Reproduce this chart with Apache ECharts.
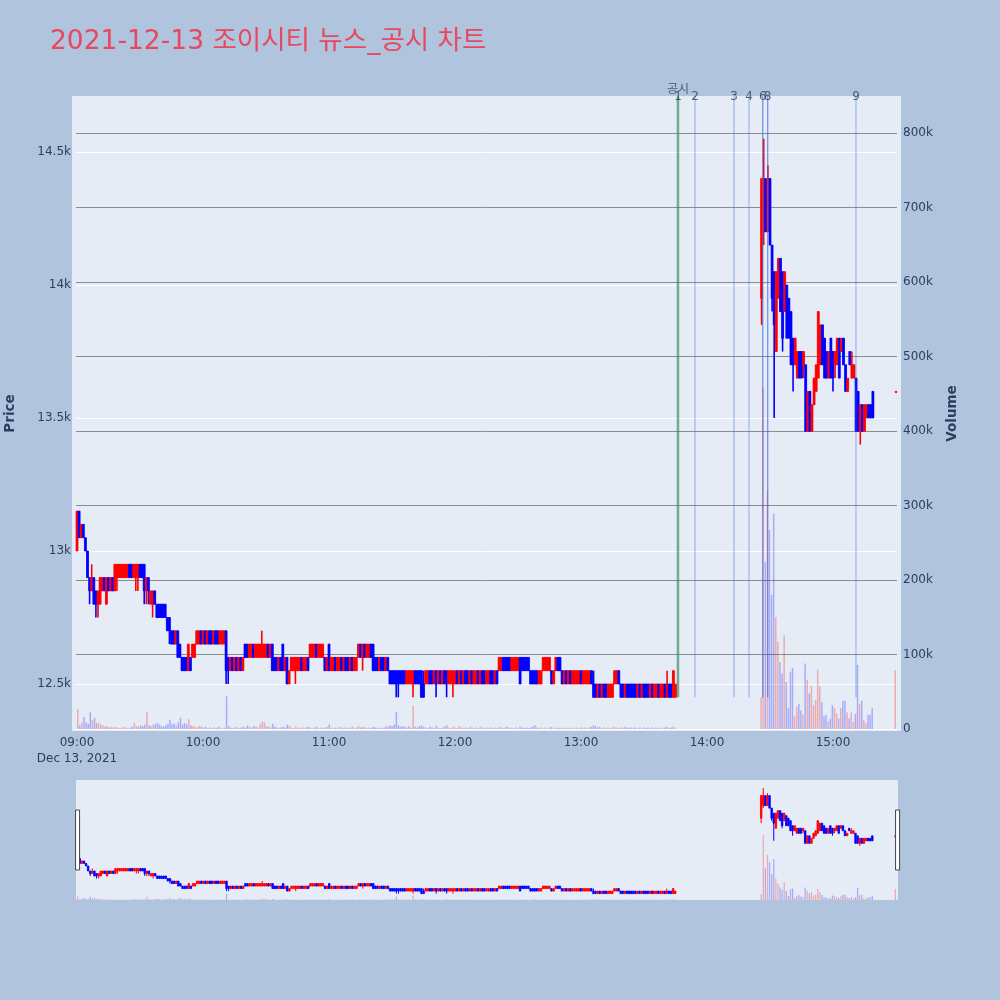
<!DOCTYPE html>
<html><head><meta charset="utf-8">
<script src="https://cdn.jsdelivr.net/npm/echarts@6/dist/echarts.min.js"></script>
<style>html,body{margin:0;padding:0;background:#b0c4de}#chart{width:1000px;height:1000px}</style>
</head><body><div id="chart"></div>
<script>
const titleText = '2021-12-13 조이시티 뉴스_공시 차트';
const dateLabel = 'Dec 13, 2021';
const tradeDay = [2021, 11, 13];
// morning session, one candle per minute from amStart: [open, close, low, high]
const amStart = [9, 0];
const amOHLC = [
[13000,13150,13000,13150],[13150,13050,13050,13150],[13050,13100,13050,13100],[13100,13050,13050,13100],[13050,13000,13000,13050],
[13000,12900,12900,13000],[12900,12850,12800,12900],[12850,12900,12850,12950],[12900,12800,12800,12900],[12850,12800,12750,12850],
[12800,12850,12750,12850],[12800,12900,12800,12900],[12850,12900,12850,12900],[12900,12850,12850,12900],[12800,12900,12800,12900],
[12900,12850,12850,12900],[12850,12900,12850,12900],[12900,12850,12850,12900],[12850,12950,12850,12950],[12900,12950,12850,12950],
[12900,12950,12900,12950],[12900,12950,12900,12950],[12900,12950,12900,12950],[12900,12950,12900,12950],[12900,12950,12900,12950],
[12950,12900,12900,12950],[12950,12900,12900,12950],[12900,12950,12900,12950],[12900,12950,12850,12950],[12900,12950,12850,12950],
[12950,12900,12900,12950],[12950,12900,12900,12950],[12950,12850,12800,12950],[12850,12900,12800,12900],[12900,12850,12800,12900],
[12800,12850,12800,12850],[12800,12850,12750,12850],[12850,12800,12800,12850],[12800,12750,12750,12800],[12800,12750,12750,12800],
[12800,12750,12750,12800],[12800,12750,12750,12800],[12800,12750,12750,12800],[12750,12700,12700,12750],[12750,12700,12650,12750],
[12700,12650,12650,12700],[12700,12650,12650,12700],[12650,12700,12650,12700],[12700,12600,12600,12700],[12650,12600,12600,12650],
[12600,12550,12550,12600],[12600,12550,12550,12600],[12600,12550,12550,12600],[12550,12650,12550,12650],[12600,12550,12550,12600],
[12600,12650,12600,12650],[12600,12650,12600,12650],[12650,12700,12650,12700],[12650,12700,12650,12700],[12700,12650,12650,12700],
[12650,12700,12650,12700],[12700,12650,12650,12700],[12650,12700,12650,12700],[12700,12650,12650,12700],[12700,12650,12650,12700],
[12650,12700,12650,12700],[12700,12650,12650,12700],[12700,12650,12650,12700],[12650,12700,12650,12700],[12650,12700,12650,12700],
[12650,12700,12650,12700],[12700,12550,12500,12700],[12600,12550,12500,12600],[12550,12600,12550,12600],[12600,12550,12550,12600],
[12550,12600,12550,12600],[12600,12550,12550,12600],[12550,12600,12550,12600],[12600,12550,12550,12600],[12550,12600,12550,12600],
[12650,12600,12600,12650],[12650,12600,12600,12650],[12600,12650,12600,12650],[12600,12650,12600,12650],[12650,12600,12600,12650],
[12600,12650,12600,12650],[12600,12650,12600,12650],[12600,12650,12600,12650],[12600,12650,12600,12700],[12600,12650,12600,12650],
[12600,12650,12600,12650],[12650,12600,12600,12650],[12600,12650,12600,12650],[12650,12550,12550,12650],[12600,12550,12550,12600],
[12600,12550,12550,12600],[12550,12600,12550,12600],[12600,12550,12550,12600],[12650,12550,12550,12650],[12550,12600,12550,12600],
[12600,12500,12500,12600],[12500,12550,12500,12550],[12550,12600,12550,12600],[12550,12600,12550,12600],[12550,12600,12500,12600],
[12550,12600,12550,12600],[12550,12600,12550,12600],[12600,12550,12550,12600],[12550,12600,12550,12600],[12550,12600,12550,12600],
[12600,12550,12550,12600],[12600,12650,12600,12650],[12600,12650,12600,12650],[12600,12650,12600,12650],[12650,12600,12600,12650],
[12600,12650,12600,12650],[12600,12650,12600,12650],[12600,12650,12600,12650],[12600,12550,12550,12600],[12550,12600,12550,12600],
[12650,12550,12550,12650],[12550,12600,12550,12600],[12550,12600,12550,12600],[12600,12550,12550,12600],[12550,12600,12550,12600],
[12550,12600,12550,12600],[12600,12550,12550,12600],[12550,12600,12550,12600],[12600,12550,12550,12600],[12600,12550,12550,12600],
[12550,12600,12550,12600],[12600,12550,12550,12600],[12550,12600,12550,12600],[12550,12600,12550,12600],[12600,12650,12600,12650],
[12650,12600,12600,12650],[12600,12650,12550,12650],[12650,12600,12600,12650],[12600,12650,12600,12650],[12600,12650,12600,12650],
[12650,12600,12600,12650],[12650,12550,12550,12650],[12600,12550,12550,12600],[12600,12550,12550,12600],[12550,12600,12550,12600],
[12600,12550,12550,12600],[12600,12550,12550,12600],[12550,12600,12550,12600],[12600,12550,12550,12600],[12550,12500,12500,12550],
[12550,12500,12500,12550],[12550,12500,12500,12550],[12550,12500,12450,12550],[12550,12500,12450,12550],[12550,12500,12500,12550],
[12550,12500,12500,12550],[12550,12500,12500,12550],[12500,12550,12500,12550],[12500,12550,12500,12550],[12500,12550,12500,12550],
[12500,12550,12450,12550],[12550,12500,12500,12550],[12550,12500,12500,12550],[12550,12500,12500,12550],[12550,12450,12450,12550],
[12500,12450,12450,12550],[12500,12550,12500,12550],[12500,12550,12500,12550],[12550,12500,12500,12550],[12550,12500,12500,12550],
[12500,12550,12500,12550],[12550,12500,12450,12550],[12500,12550,12500,12550],[12550,12500,12500,12550],[12500,12550,12500,12550],
[12550,12500,12500,12550],[12550,12500,12450,12550],[12500,12550,12500,12550],[12500,12550,12500,12550],[12500,12550,12450,12550],
[12500,12550,12500,12550],[12550,12500,12500,12550],[12500,12550,12500,12550],[12550,12500,12500,12550],[12500,12550,12500,12550],
[12550,12500,12500,12550],[12550,12500,12500,12550],[12500,12550,12500,12550],[12550,12500,12500,12550],[12500,12550,12500,12550],
[12500,12550,12500,12550],[12550,12500,12500,12550],[12500,12550,12500,12550],[12550,12500,12500,12550],[12550,12500,12500,12550],
[12500,12550,12500,12550],[12500,12550,12500,12550],[12550,12500,12500,12550],[12550,12500,12500,12550],[12500,12550,12500,12550],
[12550,12500,12500,12550],[12550,12600,12550,12600],[12550,12600,12550,12600],[12600,12550,12550,12600],[12600,12550,12550,12600],
[12600,12550,12550,12600],[12600,12550,12550,12600],[12550,12600,12550,12600],[12550,12600,12550,12600],[12550,12600,12550,12600],
[12550,12600,12550,12600],[12600,12500,12500,12600],[12600,12550,12550,12600],[12600,12550,12550,12600],[12600,12550,12550,12600],
[12600,12550,12550,12600],[12550,12500,12500,12550],[12550,12500,12500,12550],[12550,12500,12500,12550],[12550,12500,12500,12550],
[12500,12550,12500,12550],[12500,12550,12500,12550],[12550,12600,12550,12600],[12550,12600,12550,12600],[12550,12600,12550,12600],
[12550,12600,12550,12600],[12550,12500,12500,12550],[12500,12550,12500,12550],[12550,12600,12550,12600],[12600,12550,12550,12600],
[12600,12550,12550,12600],[12550,12500,12500,12550],[12500,12550,12500,12550],[12550,12500,12500,12550],[12500,12550,12500,12550],
[12550,12500,12500,12550],[12500,12550,12500,12550],[12500,12550,12500,12550],[12500,12550,12500,12550],[12500,12550,12500,12550],
[12550,12500,12500,12550],[12500,12550,12500,12550],[12500,12550,12500,12550],[12500,12550,12500,12550],[12500,12550,12500,12550],
[12550,12500,12500,12550],[12500,12450,12450,12550],[12500,12450,12450,12500],[12450,12500,12450,12500],[12500,12450,12450,12500],
[12450,12500,12450,12500],[12500,12450,12450,12500],[12500,12450,12450,12500],[12450,12500,12450,12500],[12450,12500,12450,12500],
[12450,12500,12450,12500],[12500,12550,12500,12550],[12500,12550,12500,12550],[12550,12500,12500,12550],[12500,12450,12450,12500],
[12500,12450,12450,12500],[12450,12500,12450,12500],[12500,12450,12450,12500],[12500,12450,12450,12500],[12500,12450,12450,12500],
[12500,12450,12450,12500],[12500,12450,12450,12500],[12450,12500,12450,12500],[12500,12450,12450,12500],[12450,12500,12450,12500],
[12500,12450,12450,12500],[12500,12450,12450,12500],[12500,12450,12450,12500],[12450,12500,12450,12500],[12500,12450,12450,12500],
[12450,12500,12450,12500],[12450,12500,12450,12500],[12500,12450,12450,12500],[12450,12500,12450,12500],[12450,12500,12450,12500],
[12500,12450,12450,12500],[12450,12500,12450,12550],[12500,12450,12450,12500],[12500,12450,12450,12500],[12450,12550,12450,12550],
[12450,12500,12450,12500]
];
// morning volume, thousands of shares
const amVolume = [
27,5,9,16,9,7,23,12,15,8, 8,6,5,3,4,2,3,2,3,2, 1,2,3,2,1,2,3,8,4,3, 5,4,6,23,5,4,6,7,8,6,
4,3,5,7,12,6,7,5,9,15, 6,8,6,13,5,4,3,2,4,3, 2,3,1,2,1,2,1,3,2,1, 2,44,4,2,1,3,2,1,2,3,
2,5,3,2,4,3,2,6,10,9, 4,3,2,7,3,2,1,2,3,2, 6,4,2,1,3,2,1,2,1,2, 3,2,1,2,3,1,2,1,2,3,
6,2,1,2,1,3,2,1,2,1, 2,3,1,2,4,2,3,2,1,2, 1,3,2,1,2,1,2,4,3,5, 4,6,23,5,3,4,3,2,4,2,
31,3,2,4,5,3,2,1,3,2, 1,4,2,1,2,3,5,2,1,3, 2,1,4,2,1,2,1,3,2,1, 2,1,3,2,1,2,1,2,1,2,
1,3,2,1,2,3,1,2,1,2, 1,3,2,1,2,1,2,3,5,2, 1,2,1,2,1,2,3,1,2,1, 2,1,2,1,2,1,2,1,2,1,
2,1,2,1,2,3,5,4,2,3, 1,2,1,2,1,2,3,2,1,2, 1,3,2,1,2,1,2,1,2,1, 2,1,2,1,2,1,2,1,2,1,
2,3,1,2,3,2
];
// afternoon session after the halt, one candle per minute from pmStart
const pmStart = [14, 26];
const pmOHLC = [
[13950,14400,13850,14400],[14200,14400,14150,14550],[14400,14200,14200,14400],[14200,14400,14200,14450],[14400,14150,14150,14400],
[14150,13950,13900,14150],[14050,13850,13500,14050],[13750,14050,13750,14050],[13950,14100,13950,14100],[14100,13900,13900,14100],
[14050,13800,13750,14050],[13900,14050,13900,14050],[14000,13800,13800,14000],[13950,13800,13800,13950],[13900,13700,13700,13900],
[13800,13700,13600,13800],[13700,13800,13700,13800],[13650,13750,13650,13750],[13750,13650,13650,13750],[13750,13650,13650,13750],
[13700,13750,13650,13750],[13700,13450,13450,13700],[13450,13600,13450,13600],[13600,13450,13450,13600],[13450,13550,13450,13550],
[13550,13650,13550,13650],[13600,13700,13600,13700],[13650,13900,13650,13900],[13700,13850,13700,13850],[13850,13700,13700,13850],
[13800,13650,13650,13800],[13750,13650,13650,13750],[13650,13750,13650,13750],[13800,13650,13650,13800],[13750,13650,13600,13750],
[13700,13750,13650,13750],[13700,13800,13700,13800],[13800,13650,13650,13800],[13750,13800,13750,13800],[13800,13700,13700,13800],
[13700,13600,13600,13700],[13600,13650,13600,13650],[13750,13700,13700,13750],[13650,13700,13650,13750],[13650,13700,13650,13700],
[13650,13450,13450,13650],[13600,13450,13450,13600],[13450,13550,13400,13550],[13550,13450,13450,13550],[13450,13550,13450,13550],
[13500,13550,13500,13550],[13550,13500,13500,13550],[13550,13500,13500,13550],[13600,13500,13500,13600]
];
const pmVolume = [
43,458,224,320,267,180,289,150,117,90, 74,126,63,28,77,82,17,30,34,25,
19,88,66,48,58,32,39,80,57,36, 17,19,10,14,32,28,21,14,28,38,
38,22,14,22,10,20,86,34,38,12, 8,19,19,28
];
// closing auction
const closeTime = [15, 30];
const closeOHLC = [13600,13600,13600,13600];
const closeVolume = 79;

// news / disclosure markers
const disclosureTime = [13, 46, 11];
const disclosureLabel = '공시';
const newsTimes = [[13,46,11],[13,54,17],[14,12,51],[14,20,0],[14,26,32],[14,26,32],[14,28,54],[14,28,54],[15,10,57]];
const newsLabels = ['1','2','3','4','5','6','7','8','9'];

const priceRange = [12500, 14500];
const priceStep = 500;
const volumeRange = [0, 800000];
const volumeStep = 100000;

// ---------- build ----------
const UP = '#ff0000', DOWN = '#0000ff';
function ts(h, m, s) { return new Date(tradeDay[0], tradeDay[1], tradeDay[2], h, m, s || 0).getTime(); }
const candles = [], volumes = [];
function addSession(start, ohlc, vol) {
  ohlc.forEach((c, i) => {
    const t = ts(start[0], start[1] + i);
    const prev = candles.length ? candles[candles.length - 1][2] : c[0];
    const up = c[1] > c[0] || (c[1] === c[0] && prev <= c[1]);
    candles.push([t, c[0], c[1], c[2], c[3], up ? 1 : -1]);
    volumes.push({ value: [t, vol[i] * 1000], itemStyle: { color: up ? 'rgba(255,0,0,0.28)' : 'rgba(0,0,255,0.27)' } });
  });
}
addSession(amStart, amOHLC, amVolume);
addSession(pmStart, pmOHLC, pmVolume);
addSession(closeTime, [closeOHLC], [closeVolume]);

function candleRenderer(bodyW, wickW) {
  return function (params, api) {
    const t = api.value(0);
    const pO = api.coord([t, api.value(1)]), pC = api.coord([t, api.value(2)]);
    const pL = api.coord([t, api.value(3)]), pH = api.coord([t, api.value(4)]);
    const col = api.value(5) > 0 ? UP : DOWN;
    const top = Math.min(pO[1], pC[1]), h = Math.max(Math.abs(pO[1] - pC[1]), 1);
    return { type: 'group', children: [
      { type: 'line', shape: { x1: pH[0], y1: pH[1], x2: pL[0], y2: pL[1] }, style: { stroke: col, lineWidth: wickW } },
      { type: 'rect', shape: { x: pO[0] - bodyW / 2, y: top, width: bodyW, height: h }, style: { fill: col, stroke: col, lineWidth: 0.8 } }
    ] };
  };
}

const axisColor = '#2a3f5f';
const font = "'DejaVu Sans', 'Noto Sans CJK KR', sans-serif";
const mainMin = ts(8, 59, 31), mainMax = ts(15, 30, 29);
const bgMin = ts(8, 57, 37), bgMax = ts(15, 32, 23);
const miniMax = ts(15, 30, 57);

const lineSeries = newsTimes.map((t, i) => ({
  type: 'line', xAxisIndex: 0, yAxisIndex: 0, clip: false, silent: true, symbol: 'none', z: 5,
  data: [[ts(t[0], t[1], t[2]), 14710], [ts(t[0], t[1], t[2]), 12450]],
  lineStyle: i === 0 ? { color: 'rgba(46,139,87,0.65)', width: 2.5 } : { color: 'rgba(65,105,225,0.44)', width: 1.2 }
}));
// labels: when two markers share a time, the later one is drawn on top
const labelData = [];
newsTimes.forEach((t, i) => {
  const nx = newsTimes[i + 1];
  if (nx && nx[0] === t[0] && nx[1] === t[1] && nx[2] === t[2]) return;
  labelData.push([ts(t[0], t[1], t[2]), 14709, newsLabels[i]]);
});
labelData.unshift([ts(disclosureTime[0], disclosureTime[1], disclosureTime[2]), 14733, disclosureLabel]);

const chart = echarts.init(document.getElementById('chart'), null, { renderer: 'canvas' });
chart.setOption({
  backgroundColor: '#b0c4de',
  animation: false,
  textStyle: { fontFamily: font },
  title: { text: titleText, left: 50, top: 27, padding: 0,
    textStyle: { color: '#e8475f', fontSize: 26.5, fontWeight: 'normal', fontFamily: font, lineHeight: 30 } },
  grid: [
    { left: 76, right: 103, top: 152, height: 532, outerBoundsMode: 'none', containLabel: false },
    { left: 76, right: 103, top: 133, height: 596, outerBoundsMode: 'none', containLabel: false },
    { left: 72, right: 99, top: 96, height: 635, show: true, backgroundColor: '#e5ecf6', borderWidth: 0, z: -1, outerBoundsMode: 'none', containLabel: false },
    { left: 76, right: 102, top: 780, height: 120, show: true, backgroundColor: '#e5ecf6', borderWidth: 0, outerBoundsMode: 'none', containLabel: false }
  ],
  xAxis: [
    { type: 'time', gridIndex: 0, min: mainMin, max: mainMax, show: false },
    { type: 'time', gridIndex: 1, min: mainMin, max: mainMax, axisLabel: { show: false }, axisTick: { show: false },
      splitLine: { show: false }, axisLine: { show: true, lineStyle: { color: '#ffffff', width: 1 } } },
    { type: 'time', gridIndex: 2, min: bgMin, max: bgMax, minInterval: 3600000, maxInterval: 3600000,
      axisLine: { show: false }, axisTick: { show: false }, splitLine: { show: false },
      axisLabel: { color: axisColor, fontSize: 12, margin: 4, lineHeight: 16, fontFamily: font,
        formatter: function (v) { const d = new Date(v); const h = String(d.getHours()).padStart(2, '0'); const m = String(d.getMinutes()).padStart(2, '0');
          let s = h + ':' + m; if (d.getHours() === 9 && d.getMinutes() === 0) s += '\n' + dateLabel; return s; } } },
    { type: 'time', gridIndex: 3, min: mainMin, max: miniMax, show: false }
  ],
  yAxis: [
    { type: 'value', gridIndex: 0, min: priceRange[0], max: priceRange[1], interval: priceStep, position: 'left',
      axisLine: { show: false }, axisTick: { show: false },
      axisLabel: { color: axisColor, fontSize: 12, margin: 5, fontFamily: font, formatter: v => (v / 1000) + 'k' },
      splitLine: { lineStyle: { color: '#ffffff', width: 1 } } },
    { type: 'value', gridIndex: 1, min: volumeRange[0], max: volumeRange[1], interval: volumeStep, position: 'right',
      axisLine: { show: false }, axisTick: { show: false },
      axisLabel: { color: axisColor, fontSize: 12, margin: 6, fontFamily: font, formatter: v => v === 0 ? '0' : (v / 1000) + 'k' },
      splitLine: { lineStyle: { color: '#8c8c8c', width: 1 } } },
    { type: 'value', gridIndex: 2, position: 'left', name: 'Price', nameLocation: 'middle', nameGap: 55,
      nameTextStyle: { color: axisColor, fontSize: 13.5, fontWeight: 'bold', fontFamily: font },
      axisLine: { show: false }, axisTick: { show: false }, axisLabel: { show: false }, splitLine: { show: false } },
    { type: 'value', gridIndex: 3, min: 12323, max: 14710, show: false, splitLine: { show: false } },
    { type: 'value', gridIndex: 3, min: 0, max: 850000, show: false, splitLine: { show: false } },
    { type: 'value', gridIndex: 2, position: 'right', name: 'Volume', nameLocation: 'middle', nameGap: 45,
      nameTextStyle: { color: axisColor, fontSize: 13.5, fontWeight: 'bold', fontFamily: font },
      axisLine: { show: false }, axisTick: { show: false }, axisLabel: { show: false }, splitLine: { show: false } }
  ],
  dataZoom: [{
    type: 'slider', xAxisIndex: [3], left: 76, right: 102, top: 780, height: 120, start: 0, end: 100,
    showDataShadow: false, showDetail: false, brushSelect: false, realtime: false,
    backgroundColor: 'rgba(0,0,0,0)', borderColor: 'rgba(0,0,0,0)', fillerColor: 'rgba(0,0,0,0)',
    handleIcon: 'path://M0,0 L4,0 L4,60 L0,60 Z', handleSize: 60,
    handleStyle: { color: '#ffffff', borderColor: '#444444', borderWidth: 1 },
    moveHandleSize: 0, moveHandleStyle: { opacity: 0 }, z: 10
  }],
  series: [
    { type: 'bar', name: 'Volume', xAxisIndex: 1, yAxisIndex: 1, data: volumes, barWidth: 1.5, silent: true, z: 2 },
    { type: 'custom', name: 'Price', xAxisIndex: 0, yAxisIndex: 0, clip: false, data: candles, silent: true, z: 3,
      encode: { x: 0, y: [1, 2, 3, 4] }, renderItem: candleRenderer(1.9, 1.6) },
    ...lineSeries,
    { type: 'scatter', xAxisIndex: 0, yAxisIndex: 0, clip: false, silent: true, symbol: 'rect', symbolSize: 1, z: 6,
      itemStyle: { color: 'rgba(0,0,0,0)' }, data: labelData, labelLayout: { hideOverlap: false },
      label: { show: true, position: 'inside', formatter: p => p.value[2], color: axisColor, fontSize: 12, fontFamily: font } },
    { type: 'bar', xAxisIndex: 3, yAxisIndex: 4, data: volumes, barWidth: 1.3, silent: true, z: 2 },
    { type: 'custom', xAxisIndex: 3, yAxisIndex: 3, data: candles, silent: true, z: 3, clip: true,
      encode: { x: 0, y: [1, 2, 3, 4] }, renderItem: candleRenderer(1.5, 1) }
  ]
});
</script></body></html>
